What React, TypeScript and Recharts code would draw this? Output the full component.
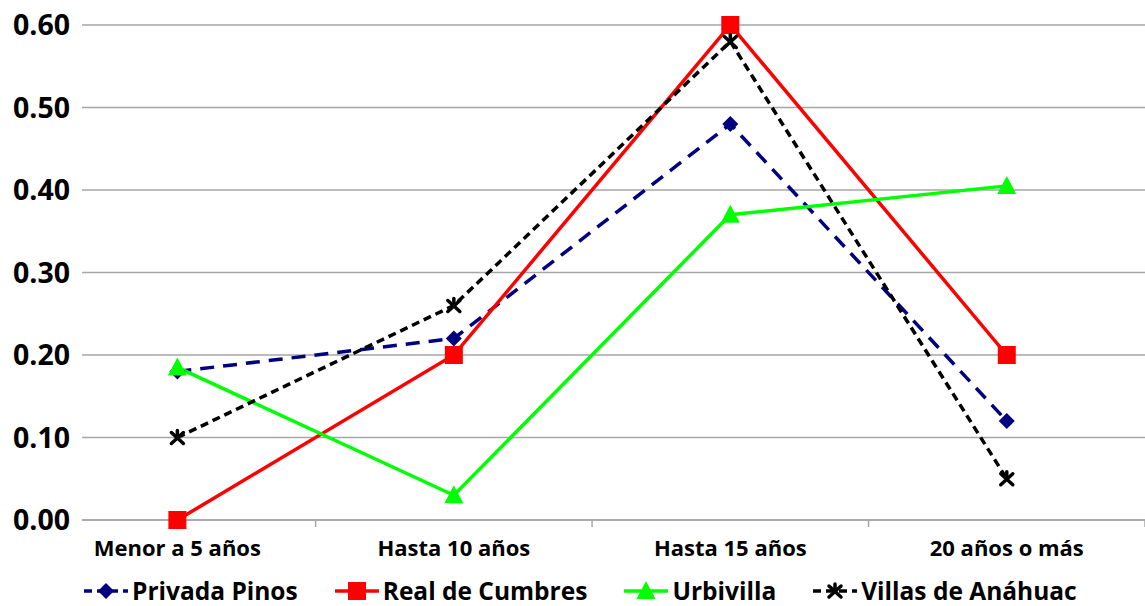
import React from 'react';
import { LineChart, Line, XAxis, YAxis, CartesianGrid, Legend } from 'recharts';

const categories = ['Menor a 5 años', 'Hasta 10 años', 'Hasta 15 años', '20 años o más'];
const privadaPinos = [0.18, 0.22, 0.48, 0.12];
const realDeCumbres = [0.0, 0.2, 0.6, 0.2];
const urbivilla = [0.185, 0.03, 0.37, 0.405];
const villasDeAnahuac = [0.1, 0.26, 0.58, 0.05];
const yTicks = [0, 0.1, 0.2, 0.3, 0.4, 0.5, 0.6];
// integer ticks carry the category names, half ticks are the separators between them
const xTicks = [0, 0.5, 1, 1.5, 2, 2.5, 3, 3.5];

const FONT = '"Open Sans", "DejaVu Sans", sans-serif';
const GRID = '#a6a6a6';

const rows = categories.map((name, i) => ({
  pos: i,
  name,
  privada: privadaPinos[i],
  real: realDeCumbres[i],
  urbi: urbivilla[i],
  villas: villasDeAnahuac[i],
}));

type Marker = 'diamond' | 'square' | 'triangle' | 'star';

const drawMarker = (kind: Marker, cx: number, cy: number, color: string, key?: string) => {
  switch (kind) {
    case 'diamond':
      return <path key={key} d={`M${cx},${cy - 8} L${cx + 8},${cy} L${cx},${cy + 8} L${cx - 8},${cy} Z`} fill={color} />;
    case 'square':
      return <rect key={key} x={cx - 9} y={cy - 9} width={18} height={18} fill={color} />;
    case 'triangle':
      return <path key={key} d={`M${cx},${cy - 10} L${cx + 9.5},${cy + 8} L${cx - 9.5},${cy + 8} Z`} fill={color} />;
    default:
      return (
        <g key={key} stroke={color} strokeWidth={3.5} strokeLinecap="round">
          <line x1={cx - 6} y1={cy - 5} x2={cx + 6} y2={cy + 6} />
          <line x1={cx - 6} y1={cy + 6} x2={cx + 6} y2={cy - 5} />
          <line x1={cx} y1={cy} x2={cx} y2={cy - 7} />
        </g>
      );
  }
};

const series = [
  { key: 'privada', label: 'Privada Pinos', color: '#000080', dash: '14 9', marker: 'diamond' as Marker },
  { key: 'real', label: 'Real de Cumbres', color: '#ff0000', dash: undefined, marker: 'square' as Marker },
  { key: 'urbi', label: 'Urbivilla', color: '#00ff00', dash: undefined, marker: 'triangle' as Marker },
  { key: 'villas', label: 'Villas de Anáhuac', color: '#000000', dash: '8 5', marker: 'star' as Marker },
];

const XTick = (props: any) => {
  const { x, y, payload } = props;
  const v = payload.value as number;
  if (!Number.isInteger(v)) {
    return <line x1={x} y1={y} x2={x} y2={y + 7} stroke={GRID} strokeWidth={1.5} />;
  }
  return (
    <text x={x} y={y + 36} textAnchor="middle" fontFamily={FONT} fontWeight={700} fontSize={22} fill="#000">
      {categories[v]}
    </text>
  );
};

const LegendBox = () => (
  <div
    style={{
      height: 56,
      boxSizing: 'border-box',
      paddingTop: 26,
      paddingLeft: 83,
      display: 'flex',
      alignItems: 'center',
      gap: 36,
      fontFamily: FONT,
      fontWeight: 700,
      fontSize: 24.5,
      lineHeight: '26px',
      color: '#000',
    }}
  >
    {series.map((s) => (
      <div key={s.key} style={{ display: 'flex', alignItems: 'center' }}>
        <svg width={46} height={22} style={{ marginRight: 3 }}>
          <line x1={1} y1={11} x2={45} y2={11} stroke={s.color} strokeWidth={3.5} strokeDasharray={s.dash ? '8 5' : undefined} />
          {drawMarker(s.marker, 23, 11, s.color)}
        </svg>
        <span>{s.label}</span>
      </div>
    ))}
  </div>
);

export default function App() {
  return (
    <div style={{ position: 'absolute', left: 0, top: 0, background: '#fff' }}>
      <LineChart width={1145} height={606} data={rows} margin={{ top: 25, right: 0, bottom: 0, left: 0 }}>
        <CartesianGrid vertical={false} stroke={GRID} strokeWidth={1.5} />
        <XAxis
          dataKey="pos"
          type="number"
          domain={[-0.345, 3.5]}
          allowDataOverflow
          ticks={xTicks}
          interval={0}
          height={30}
          tickSize={0}
          tickMargin={0}
          tickLine={false}
          axisLine={{ stroke: GRID, strokeWidth: 1.5 }}
          tick={<XTick />}
        />
        <YAxis
          type="number"
          domain={[0, 0.6]}
          ticks={yTicks}
          width={82}
          axisLine={false}
          tickLine={false}
          tickSize={6}
          tickMargin={6}
          tickFormatter={(v: number) => v.toFixed(2)}
          tick={{ fill: '#000', fontSize: 28.5, fontWeight: 700, fontFamily: FONT }}
        />
        <Legend verticalAlign="bottom" height={56} content={<LegendBox />} />
        {series.map((s) => (
          <Line
            key={s.key}
            type="linear"
            dataKey={s.key}
            name={s.label}
            stroke={s.color}
            strokeWidth={3.5}
            strokeDasharray={s.dash}
            isAnimationActive={false}
            dot={(p: any) => drawMarker(s.marker, p.cx, p.cy, s.color, `${s.key}-${p.index}`)}
            activeDot={false}
          />
        ))}
      </LineChart>
    </div>
  );
}
